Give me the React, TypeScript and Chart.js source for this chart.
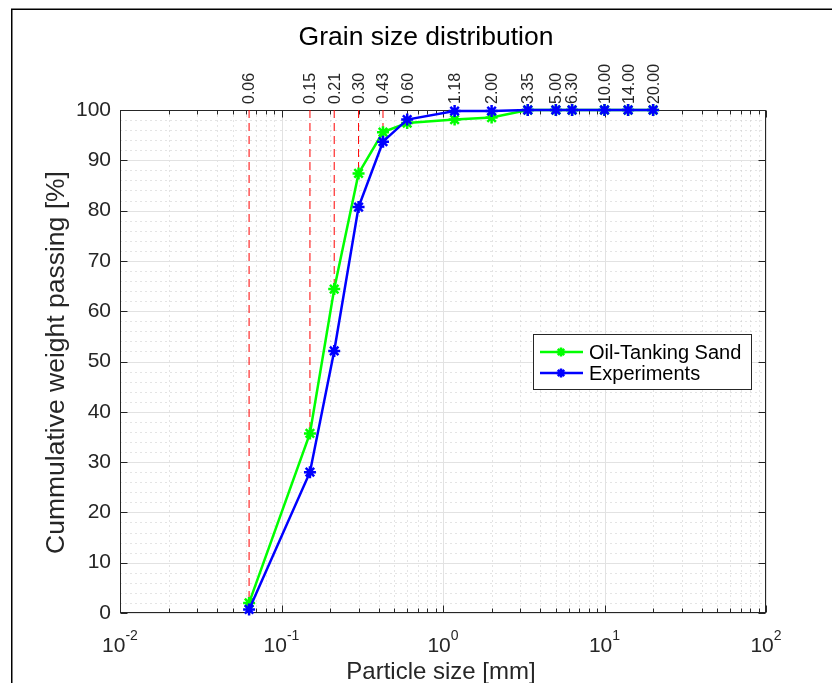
import React, { useEffect, useRef } from 'react';
import { Chart, registerables } from 'chart.js';

Chart.register(...registerables);

// ---------- data ----------
const sizes = [0.063, 0.15, 0.212, 0.3, 0.425, 0.6, 1.18, 2.0, 3.35, 5.0, 6.3, 10, 14, 20];
const topLabels = ['0.06', '0.15', '0.21', '0.30', '0.43', '0.60', '1.18', '2.00', '3.35', '5.00', '6.30', '10.00', '14.00', '20.00'];
const oilTankingSand = [2.0, 35.7, 64.4, 87.4, 95.6, 97.4, 98.1, 98.5, 100, 100, 100, 100, 100, 100];
const experiments = [0.7, 28.0, 52.1, 80.7, 93.7, 98.1, 99.8, 99.8, 100, 100, 100, 100, 100, 100];
const guideCount = 5; // red dashed guides from 100% down to the Oil-Tanking Sand curve
const seriesNames = ['Oil-Tanking Sand', 'Experiments'];
const seriesColors = ['#00ff00', '#0000ff'];
const xDecades = [-2, -1, 0, 1, 2];
const yMajor = [0, 10, 20, 30, 40, 50, 60, 70, 80, 90, 100];
const titleText = 'Grain size distribution';
const xTitle = 'Particle size [mm]';
const yTitle = 'Cummulative weight passing [%]';

const FONT = '"Liberation Sans", Arial, Helvetica, sans-serif';
const AX = '#262626';

function drawStar(ctx: CanvasRenderingContext2D, x: number, y: number, r: number) {
  ctx.beginPath();
  ctx.moveTo(x - r, y); ctx.lineTo(x + r, y);
  ctx.moveTo(x, y - r); ctx.lineTo(x, y + r);
  const d = r * Math.SQRT1_2;
  ctx.moveTo(x - d, y - d); ctx.lineTo(x + d, y + d);
  ctx.moveTo(x - d, y + d); ctx.lineTo(x + d, y - d);
  ctx.stroke();
}

const decorPlugin = {
  id: 'decor',
  beforeDatasetsDraw(chart: any) {
    const { ctx, chartArea: a, scales } = chart;
    const xs = scales.x;
    const ys = scales.y;
    const L = Math.round(a.left) + 0.5;
    const R = Math.round(a.right) - 0.5;
    const T = Math.round(a.top) + 0.5;
    const B = Math.round(a.bottom) - 0.5;
    ctx.save();
    // minor grid (dotted)
    ctx.lineWidth = 1;
    ctx.strokeStyle = '#c8c8c8';
    ctx.setLineDash([1, 4]);
    ctx.beginPath();
    for (let d = -2; d < 2; d++) {
      for (let m = 2; m <= 9; m++) {
        const px = Math.round(xs.getPixelForValue(m * Math.pow(10, d))) + 0.5;
        ctx.moveTo(px, T); ctx.lineTo(px, B);
      }
    }
    for (let v = 2; v < 100; v += 2) {
      if (v % 10 === 0) continue;
      const py = Math.round(ys.getPixelForValue(v)) + 0.5;
      ctx.moveTo(L, py); ctx.lineTo(R, py);
    }
    ctx.stroke();
    // major grid (solid)
    ctx.setLineDash([]);
    ctx.strokeStyle = '#e2e2e2';
    ctx.beginPath();
    for (const d of xDecades) {
      const px = Math.round(xs.getPixelForValue(Math.pow(10, d))) + 0.5;
      ctx.moveTo(px, T); ctx.lineTo(px, B);
    }
    for (const v of yMajor) {
      const py = Math.round(ys.getPixelForValue(v)) + 0.5;
      ctx.moveTo(L, py); ctx.lineTo(R, py);
    }
    ctx.stroke();
    // axes box
    ctx.strokeStyle = AX;
    ctx.lineWidth = 1;
    ctx.strokeRect(L, T, R - L, B - T);
    // inward ticks
    ctx.beginPath();
    for (let d = -2; d <= 2; d++) {
      for (let m = 1; m <= 9; m++) {
        if (d === 2 && m > 1) break;
        const px = Math.round(xs.getPixelForValue(m * Math.pow(10, d))) + 0.5;
        const len = m === 1 ? 7 : 4;
        ctx.moveTo(px, B); ctx.lineTo(px, B - len);
        ctx.moveTo(px, T); ctx.lineTo(px, T + len);
      }
    }
    for (const v of yMajor) {
      const py = Math.round(ys.getPixelForValue(v)) + 0.5;
      ctx.moveTo(L, py); ctx.lineTo(L + 7, py);
      ctx.moveTo(R, py); ctx.lineTo(R - 7, py);
    }
    ctx.stroke();
    ctx.restore();
  },
  afterDatasetsDraw(chart: any) {
    const { ctx, chartArea: a, scales } = chart;
    const xs = scales.x;
    const xt = scales.x2;
    ctx.save();
    ctx.fillStyle = AX;
    // top tick labels (rotated, reading upward)
    ctx.font = `16px ${FONT}`;
    ctx.textAlign = 'left';
    ctx.textBaseline = 'middle';
    sizes.forEach((v, i) => {
      const px = xt.getPixelForValue(v);
      ctx.save();
      ctx.translate(px + 1, a.top - 6);
      ctx.rotate(-Math.PI / 2);
      ctx.fillText(topLabels[i], 0, 0);
      ctx.restore();
    });
    // x tick labels with superscripts
    ctx.textBaseline = 'alphabetic';
    ctx.textAlign = 'left';
    for (const d of xDecades) {
      const px = xs.getPixelForValue(Math.pow(10, d));
      ctx.font = `21px ${FONT}`;
      const wb = ctx.measureText('10').width;
      ctx.font = `14px ${FONT}`;
      const exp = String(d);
      const we = ctx.measureText(exp).width;
      const start = px - (wb + we) / 2;
      ctx.font = `21px ${FONT}`;
      ctx.fillText('10', start, 652);
      ctx.font = `14px ${FONT}`;
      ctx.fillText(exp, start + wb, 640);
    }
    // title
    ctx.fillStyle = '#000';
    ctx.textAlign = 'center';
    ctx.textBaseline = 'middle';
    ctx.font = `26.5px ${FONT}`;
    ctx.fillText(titleText, 426, 38);
    // x title
    ctx.fillStyle = AX;
    ctx.font = `24px ${FONT}`;
    ctx.textBaseline = 'alphabetic';
    ctx.fillText(xTitle, 441, 679);
    // y title
    ctx.save();
    ctx.translate(57, (a.top + a.bottom) / 2 + 1);
    ctx.rotate(-Math.PI / 2);
    ctx.textBaseline = 'middle';
    ctx.font = `26.5px ${FONT}`;
    ctx.fillText(yTitle, 0, 0);
    ctx.restore();
    // legend
    const lx = 533.5, ly = 334.5, lw = 218, lh = 55;
    ctx.fillStyle = '#fff';
    ctx.fillRect(lx, ly, lw, lh);
    ctx.strokeStyle = AX;
    ctx.lineWidth = 1;
    ctx.strokeRect(lx, ly, lw, lh);
    const rows = [352, 373];
    seriesNames.forEach((name, i) => {
      const y = rows[i];
      ctx.strokeStyle = seriesColors[i];
      ctx.lineWidth = 2.5;
      ctx.beginPath();
      ctx.moveTo(540, y); ctx.lineTo(583, y);
      ctx.stroke();
      ctx.lineWidth = 2.5;
      drawStar(ctx, 561, y, 4.5);
      ctx.fillStyle = '#000';
      ctx.font = `20px ${FONT}`;
      ctx.textAlign = 'left';
      ctx.textBaseline = 'middle';
      ctx.fillText(name, 589, y + 1);
    });
    // outer figure frame
    ctx.strokeStyle = '#000';
    ctx.lineWidth = 1.5;
    ctx.beginPath();
    ctx.moveTo(11.75, 683);
    ctx.lineTo(11.75, 9.25);
    ctx.lineTo(832, 9.25);
    ctx.stroke();
    ctx.restore();
  },
};

export default function App() {
  const ref = useRef<HTMLCanvasElement>(null);
  useEffect(() => {
    if (!ref.current) return;
    const mk = (vals: number[], color: string, label: string, order: number) => ({
      label,
      data: sizes.map((x, i) => ({ x, y: vals[i] })),
      borderColor: color,
      backgroundColor: color,
      borderWidth: 2.5,
      pointStyle: 'star',
      pointRadius: 6,
      pointBorderWidth: 2.5,
      pointBorderColor: color,
      pointBackgroundColor: color,
      tension: 0,
      order,
      clip: false,
    });
    const guides = sizes.slice(0, guideCount).map((x, i) => ({
      label: 'guide ' + topLabels[i],
      data: [{ x, y: 100 }, { x, y: oilTankingSand[i] }],
      borderColor: '#ff0000',
      borderWidth: 1,
      borderDash: [8, 5],
      pointRadius: 0,
      order: 2,
      clip: false,
    }));
    const chart = new Chart(ref.current, {
      type: 'line',
      data: {
        datasets: [
          mk(experiments, seriesColors[1], seriesNames[1], 0),
          mk(oilTankingSand, seriesColors[0], seriesNames[0], 1),
          ...guides,
        ] as any,
      },
      options: {
        responsive: false,
        animation: false,
        devicePixelRatio: 1,
        layout: { padding: { left: 0, top: 0, right: 66, bottom: 0 } },
        plugins: { legend: { display: false }, tooltip: { enabled: false }, title: { display: false } },
        scales: {
          x: {
            type: 'logarithmic',
            position: 'bottom',
            min: 0.01,
            max: 100,
            grid: { display: false },
            border: { display: false },
            ticks: { display: false },
            afterFit: (s: any) => { s.height = 70; },
          },
          x2: {
            type: 'logarithmic',
            position: 'top',
            min: 0.01,
            max: 100,
            grid: { display: false },
            border: { display: false },
            afterBuildTicks: (s: any) => { s.ticks = sizes.map((v) => ({ value: v })); },
            ticks: { display: false },
            afterFit: (s: any) => { s.height = 110; },
          },
          y: {
            type: 'linear',
            position: 'left',
            min: 0,
            max: 100,
            grid: { display: false, drawTicks: false },
            border: { display: false },
            ticks: { stepSize: 10, padding: 9, color: AX, font: { family: FONT, size: 21 } },
            afterFit: (s: any) => { s.width = 120; },
          },
        },
      } as any,
      plugins: [decorPlugin],
    });
    return () => chart.destroy();
  }, []);
  return (
    <div style={{ position: 'fixed', left: 0, top: 0, width: 832, height: 683, background: '#fff' }}>
      <canvas ref={ref} width={832} height={683} style={{ width: 832, height: 683, display: 'block' }} />
    </div>
  );
}
